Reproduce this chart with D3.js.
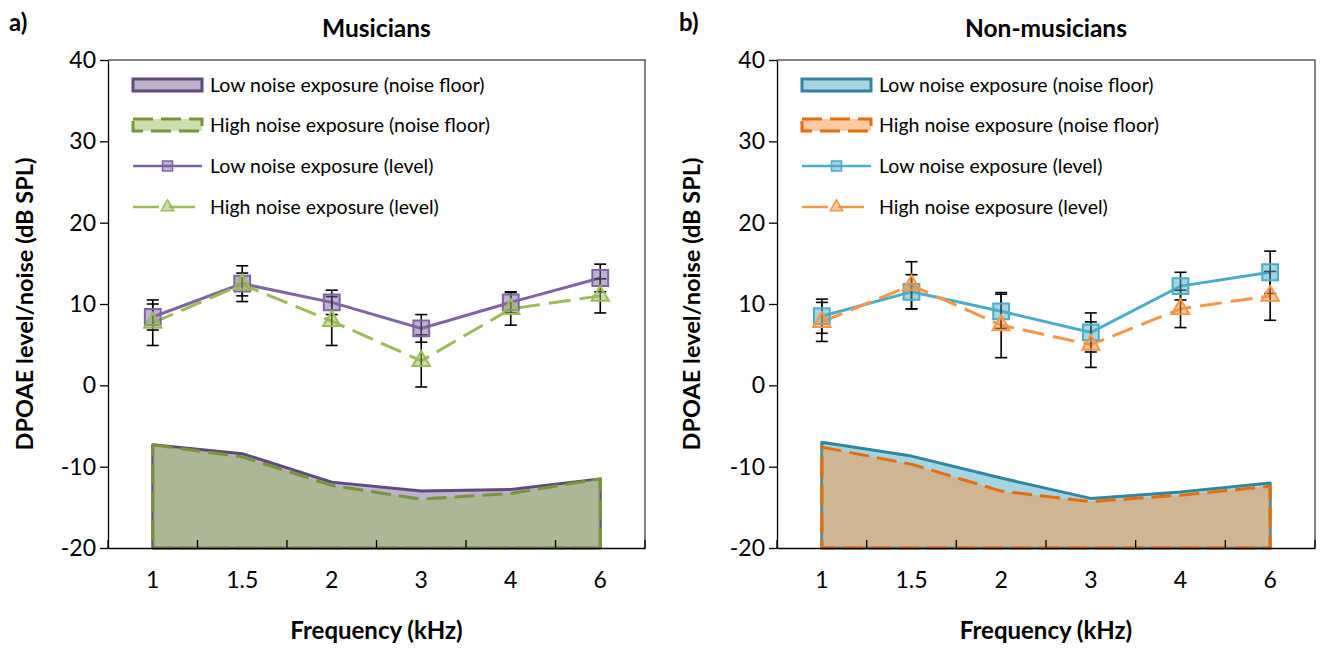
<!DOCTYPE html>
<html><head><meta charset="utf-8">
<script src="https://cdn.jsdelivr.net/npm/d3@7"></script>
<style>body{margin:0;background:#fff} text{font-family:Lato, "Open Sans", sans-serif;fill:#000}</style>
</head><body><svg id="c" width="1327" height="652"></svg>
<script>
// ---- data ----
const frequencies = ["1","1.5","2","3","4","6"];
const yTickValues = [-20,-10,0,10,20,30,40];
const legendLabels = ["Low noise exposure (noise floor)","High noise exposure (noise floor)","Low noise exposure (level)","High noise exposure (level)"];

const musLowLevel  = [8.4, 12.5, 10.2, 7.0, 10.2, 13.2];
const musLowErr    = [1.6, 2.2, 1.5, 1.7, 1.3, 1.7];
const musHighLevel = [7.7, 12.4, 7.9, 3.0, 9.4, 11.0];
const musHighErr   = [2.8, 1.4, 3.0, 3.2, 2.0, 2.1];
const musLowFloor  = [-7.3, -8.4, -11.9, -13.0, -12.8, -11.5];
const musHighFloor = [-7.3, -8.8, -12.3, -14.0, -13.3, -11.5];

const nonLowLevel  = [8.5, 11.5, 9.1, 6.5, 12.2, 13.9];
const nonLowErr    = [2.1, 2.1, 2.1, 2.4, 1.7, 2.6];
const nonHighLevel = [7.8, 12.3, 7.4, 5.0, 9.4, 11.0];
const nonHighErr   = [2.4, 2.9, 4.0, 2.8, 2.3, 3.0];
const nonLowFloor  = [-7.0, -8.7, -11.4, -13.9, -13.1, -12.0];
const nonHighFloor = [-7.6, -9.7, -13.0, -14.3, -13.5, -12.4];

// ---- layout / style ----
const svg = d3.select("#c");
const plotTop = 60, plotBottom = 548;
const panels = [
  {tag:"a)", title:"Musicians", left:108, right:645, tagX:9, yTitleX:33,
   lowLevel:musLowLevel, lowErr:musLowErr, highLevel:musHighLevel, highErr:musHighErr,
   lowFloor:musLowFloor, highFloor:musHighFloor,
   lowColor:"#8064A2", lowDark:"#604A7B", highColor:"#9BBB59", highDark:"#77933C"},
  {tag:"b)", title:"Non-musicians", left:777, right:1315, tagX:679, yTitleX:700,
   lowLevel:nonLowLevel, lowErr:nonLowErr, highLevel:nonHighLevel, highErr:nonHighErr,
   lowFloor:nonLowFloor, highFloor:nonHighFloor,
   lowColor:"#4BACC6", lowDark:"#31859C", highColor:"#F79646", highDark:"#E46C0A"}
];

const y = d3.scaleLinear().domain([-20,40]).range([plotBottom, plotTop]);
const sq = d3.symbol().type(d3.symbolSquare).size(250);
const tri = d3.symbol().type(d3.symbolTriangle).size(130);
const sqS = d3.symbol().type(d3.symbolSquare).size(100);
const triS = d3.symbol().type(d3.symbolTriangle).size(70);

panels.forEach(p => {
  const g = svg.append("g");
  const x = d3.scaleBand().domain(frequencies).range([p.left, p.right]).padding(0);
  const cx = d => x(d) + x.bandwidth()/2;

  // floors
  const area = vals => d3.area().x((d,i)=>cx(frequencies[i])).y0(y(-20)).y1(d=>y(d))(vals);
  g.append("path").attr("d", area(p.lowFloor))
    .attr("fill", p.lowColor).attr("fill-opacity",0.5)
    .attr("stroke", p.lowDark).attr("stroke-width",3).attr("stroke-linejoin","round");
  g.append("path").attr("d", area(p.highFloor))
    .attr("fill", p.highColor).attr("fill-opacity",0.5)
    .attr("stroke", p.highDark).attr("stroke-width",3).attr("stroke-dasharray","20,8").attr("stroke-linejoin","round");

  // border
  g.append("path").attr("d", `M${p.left},${plotTop}H${p.right}V${plotBottom}`)
    .attr("fill","none").attr("stroke","#595959").attr("stroke-width",1.5);

  // y axis
  const ya = g.append("g").attr("transform",`translate(${p.left},0)`)
    .call(d3.axisLeft(y).tickValues(yTickValues).tickFormat(d => String(d)).tickSize(8).tickSizeOuter(0).tickPadding(4));
  ya.select(".domain").attr("stroke","#000").attr("stroke-width",1.3);
  ya.selectAll(".tick line").attr("stroke","#000").attr("stroke-width",1.3);
  ya.selectAll(".tick text").style("font-size","23px").style("font-family","Lato");

  // x axis
  const xa = g.append("g").attr("transform",`translate(0,${plotBottom})`)
    .call(d3.axisBottom(x).tickSize(0).tickSizeOuter(0).tickPadding(24));
  xa.select(".domain").attr("stroke","#000").attr("stroke-width",1.3);
  xa.selectAll(".tick text").style("font-size","23px").style("font-family","Lato");
  const bounds = frequencies.map(f => x(f)).concat([x.range()[1]]);
  g.selectAll(null).data(bounds).enter().append("line")
    .attr("x1",d=>d).attr("x2",d=>d).attr("y1",plotBottom).attr("y2",plotBottom-8)
    .attr("stroke","#000").attr("stroke-width",1.3);

  // level lines
  const line = vals => d3.line().x((d,i)=>cx(frequencies[i])).y(d=>y(d))(vals);
  g.append("path").attr("d", line(p.lowLevel)).attr("fill","none")
    .attr("stroke",p.lowColor).attr("stroke-width",3);
  g.append("path").attr("d", line(p.highLevel)).attr("fill","none")
    .attr("stroke",p.highColor).attr("stroke-width",3).attr("stroke-dasharray","22,9");

  // error bars
  const err = (vals, errs) => {
    const eg = g.append("g").attr("stroke","#000").attr("stroke-width",1.6);
    vals.forEach((v,i) => {
      const X = cx(frequencies[i]);
      eg.append("line").attr("x1",X).attr("x2",X).attr("y1",y(v-errs[i])).attr("y2",y(v+errs[i]));
      [v-errs[i], v+errs[i]].forEach(e => eg.append("line").attr("x1",X-6).attr("x2",X+6).attr("y1",y(e)).attr("y2",y(e)));
    });
  };
  err(p.lowLevel, p.lowErr);
  err(p.highLevel, p.highErr);

  // markers
  g.selectAll(null).data(p.lowLevel).enter().append("path")
    .attr("d", sq).attr("transform",(d,i)=>`translate(${cx(frequencies[i])},${y(d)})`)
    .attr("fill",p.lowColor).attr("fill-opacity",0.5).attr("stroke",p.lowColor).attr("stroke-width",2);
  g.selectAll(null).data(p.highLevel).enter().append("path")
    .attr("d", tri).attr("transform",(d,i)=>`translate(${cx(frequencies[i])},${y(d)})`)
    .attr("fill",p.highColor).attr("fill-opacity",0.5).attr("stroke",p.highColor).attr("stroke-width",2);

  // legend
  const lx = p.left + 25, lw = 69, rows = [85, 125, 166, 207];
  const lg = g.append("g");
  lg.append("rect").attr("x",lx).attr("y",rows[0]-6).attr("width",lw).attr("height",12)
    .attr("fill",p.lowColor).attr("fill-opacity",0.5).attr("stroke",p.lowDark).attr("stroke-width",3);
  lg.append("rect").attr("x",lx).attr("y",rows[1]-6).attr("width",lw).attr("height",12)
    .attr("fill",p.highColor).attr("fill-opacity",0.5).attr("stroke",p.highDark).attr("stroke-width",3).attr("stroke-dasharray","20,8");
  lg.append("line").attr("x1",lx).attr("x2",lx+lw).attr("y1",rows[2]).attr("y2",rows[2])
    .attr("stroke",p.lowColor).attr("stroke-width",2.5);
  lg.append("path").attr("d",sqS).attr("transform",`translate(${lx+lw/2},${rows[2]})`)
    .attr("fill",p.lowColor).attr("fill-opacity",0.5).attr("stroke",p.lowColor).attr("stroke-width",1.5);
  lg.append("line").attr("x1",lx).attr("x2",lx+lw).attr("y1",rows[3]).attr("y2",rows[3])
    .attr("stroke",p.highColor).attr("stroke-width",2.5).attr("stroke-dasharray","26,10");
  lg.append("path").attr("d",triS).attr("transform",`translate(${lx+lw/2},${rows[3]})`)
    .attr("fill",p.highColor).attr("fill-opacity",0.5).attr("stroke",p.highColor).attr("stroke-width",1.5);
  legendLabels.forEach((t,i) => lg.append("text").attr("x",lx+lw+8).attr("y",rows[i])
    .attr("dy","0.35em").style("font-size","19.5px").text(t));

  // titles
  const mid = (p.left + p.right)/2;
  svg.append("text").attr("x",mid).attr("y",37).attr("text-anchor","middle")
    .style("font-size","24.5px").style("font-weight","bold").text(p.title);
  svg.append("text").attr("x",p.tagX).attr("y",31)
    .style("font-size","24px").style("font-weight","bold").text(p.tag);
  svg.append("text").attr("x",mid).attr("y",639).attr("text-anchor","middle")
    .style("font-size","24px").style("font-weight","bold").text("Frequency (kHz)");
  svg.append("text").attr("transform",`translate(${p.yTitleX},${(plotTop+plotBottom)/2}) rotate(-90)`)
    .attr("text-anchor","middle").style("font-size","23.5px").style("font-weight","bold")
    .text("DPOAE level/noise (dB SPL)");
});
</script></body></html>
